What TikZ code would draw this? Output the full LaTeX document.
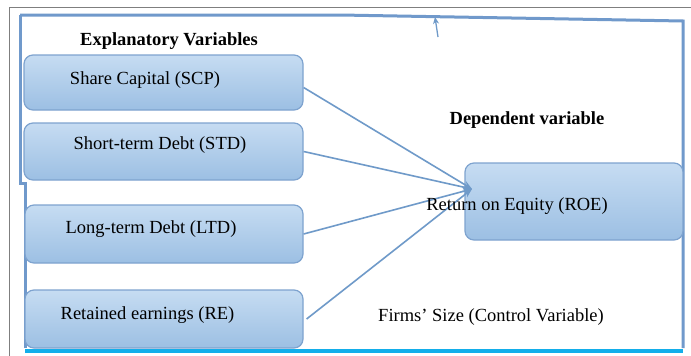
\documentclass[tikz,border=0pt]{standalone}
\usepackage{fontspec}
\setmainfont{Liberation Serif}
\usetikzlibrary{arrows.meta}
\definecolor{frameblue}{HTML}{7099CB}
\definecolor{boxedge}{HTML}{7EA3CF}
\definecolor{boxtop}{HTML}{C6DCF2}
\definecolor{boxbot}{HTML}{9CBFE3}
\definecolor{linkblue}{HTML}{6F9AC9}
\definecolor{cyanline}{HTML}{13AEEA}
\definecolor{greyline}{HTML}{7F7F7F}
\tikzset{
  varbox/.style={draw=boxedge, line width=1.2pt, rounded corners=9pt, top color=boxtop, bottom color=boxbot, inner sep=0pt},
  lbl/.style={font=\fontsize{18.5}{22}\selectfont, inner sep=0pt, text=black},
  head/.style={font=\fontsize{18.5}{22}\selectfont\bfseries, inner sep=0pt, text=black},
  link/.style={draw=linkblue, line width=1.6pt, -{Stealth[length=9pt,width=7pt]}},
  frame/.style={draw=frameblue, line width=3pt},
}
\begin{document}
\begin{tikzpicture}[x=1pt,y=-1pt]
\useasboundingbox (0,0) rectangle (691,356);
\fill[white] (0,0) rectangle (691,356);
% grey outer border
\draw[greyline, line width=1pt] (9,356) -- (9,7) -- (691,7);
% blue frame
\draw[frame] (20,15) -- (340,15) -- (683,21) -- (683,348);
\draw[frame] (20,15) -- (20,183) -- (25,183) -- (25,348);
\draw[cyanline, line width=3.5pt] (25,351) -- (683,351);
% boxes
\node[varbox, minimum width=279pt, minimum height=55pt] (scp) at (163.5,82.5) {};
\node[varbox, minimum width=279pt, minimum height=57pt] (std) at (163.5,151.5) {};
\node[varbox, minimum width=278pt, minimum height=58pt] (ltd) at (164,234) {};
\node[varbox, minimum width=278pt, minimum height=58pt] (re) at (164,319) {};
\node[varbox, minimum width=218pt, minimum height=77pt] (roe) at (574,201.5) {};
% texts
\node[head] (explh) at (169,41) {Explanatory Variables};
\node[head] (deph) at (527,120) {Dependent variable};
\node[lbl] (scpt) at (145,80.5) {Share Capital (SCP)};
\node[lbl] (stdt) at (160,145) {Short-term Debt (STD)};
\node[lbl] (ltdt) at (151,229) {Long-term Debt (LTD)};
\node[lbl] (ret) at (147.5,315) {Retained earnings (RE)};
\node[lbl] (fst) at (491,317) {Firms’ Size (Control Variable)};
% connectors
\coordinate (hub) at (472,189);
\draw[link] (scp.east) ++(0,5) -- (hub);
\draw[link] (std.east) -- (hub);
\draw[link] (ltd.east) -- (hub);
\draw[link] ([xshift=3pt]re.east) -- (hub);
\node[lbl] (roet) at (517,206) {Return on Equity (ROE)};
% small stray arrow at top
\coordinate (sa1) at (438,37);
\coordinate (sa2) at (435,17);
\draw[link, line width=1.3pt, -{Stealth[length=7pt,width=6pt]}] (sa1) -- (sa2);
\end{tikzpicture}
\end{document}
